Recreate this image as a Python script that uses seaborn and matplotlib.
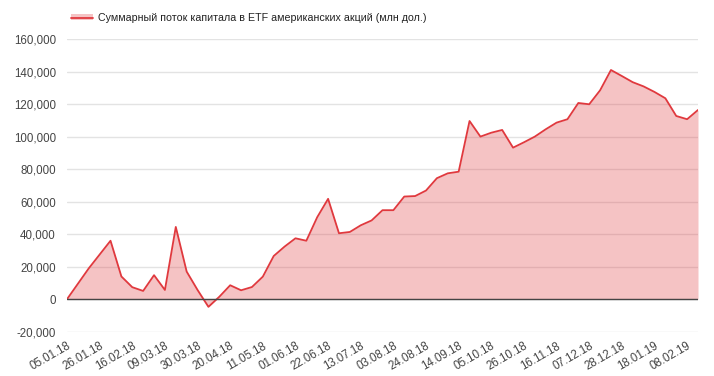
import pandas as pd
import seaborn as sns
from matplotlib import pyplot as plt
from matplotlib.patches import Patch
from matplotlib.lines import Line2D
from matplotlib.ticker import FuncFormatter

# weekly cumulative flow, mln USD
dates = pd.date_range('2018-01-05', periods=59, freq='7D')
flows = [
    0, 9500, 19000, 27500, 36000, 14000, 7400, 5100, 14800, 5700,
    44500, 17000, 5700, -4700, 1500, 8600, 5500, 7500, 13900, 26600,
    32400, 37500, 36000, 50500, 61800, 40600, 41400, 45500, 48500, 54800,
    54800, 63200, 63500, 66900, 74500, 77500, 78500, 109700, 100100, 102500,
    104200, 93300, 96600, 100100, 104600, 108700, 110800, 120800, 120000, 128600,
    141100, 137400, 133600, 131000, 127600, 123700, 112800, 110800, 116500,
]
series_label = 'Суммарный поток капитала в ETF американских акций (млн дол.)'

df = pd.DataFrame({'idx': range(len(dates)), 'value': flows})
tick_idx = list(range(0, len(dates), 3))
tick_labels = [dates[i].strftime('%d.%m.%y') for i in tick_idx]

line_color = '#e0393e'

sns.set_style('white')
plt.rcParams['font.family'] = ['Liberation Sans', 'DejaVu Sans']

fig = plt.figure(figsize=(7.14, 3.76), dpi=100)
ax = fig.add_axes([67 / 714, 1 - 331.7 / 376, (698 - 67) / 714, (331.7 - 39.3) / 376])

ax.fill_between(df['idx'], df['value'], 0, color=line_color, alpha=0.3, linewidth=0, zorder=2)
sns.lineplot(data=df, x='idx', y='value', color=line_color, linewidth=1.3, ax=ax, zorder=3)
ax.axhline(0, color='#444444', linewidth=1.0, zorder=4)

ax.set_xlim(0, len(dates) - 1)
ax.set_ylim(-20000, 160000)
ax.set_yticks(range(-20000, 160001, 20000))
ax.yaxis.set_major_formatter(FuncFormatter(lambda v, p: f'{int(v):,}'))
ax.set_xticks(tick_idx)
ax.set_xticklabels(tick_labels, rotation=30, ha='right', rotation_mode='anchor')
ax.grid(axis='y', color='#e3e3e3', linewidth=1.0, zorder=0)
ax.set_axisbelow(True)
ax.tick_params(axis='both', length=0, labelsize=8.3, colors='#444444')
ax.tick_params(axis='y', pad=8)
ax.tick_params(axis='x', pad=6)
ax.set_xlabel('')
ax.set_ylabel('')
for s in ax.spines.values():
    s.set_visible(False)

handle = (Patch(facecolor=line_color, alpha=0.3, edgecolor='none'),
          Line2D([], [], color=line_color, linewidth=1.3))
fig.legend([handle], [series_label], loc='center left',
           bbox_to_anchor=(66 / 714, 1 - 18 / 376), frameon=False,
           fontsize=7.7, handlelength=2.0, handleheight=0.5, handletextpad=0.45,
           borderpad=0, labelcolor='#222222')

fig.savefig('out.png', dpi=100)
plt.close(fig)
